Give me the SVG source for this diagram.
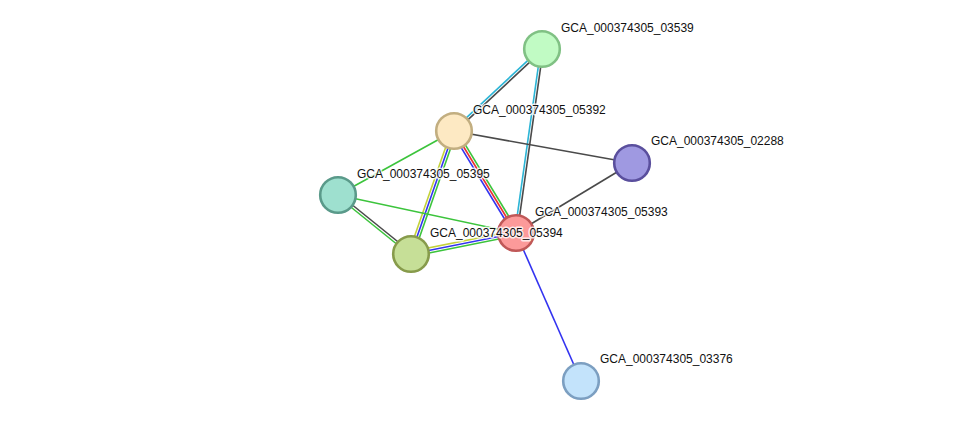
<svg xmlns="http://www.w3.org/2000/svg" width="976" height="427" viewBox="0 0 976 427">
<style>
.e{fill:none;stroke-width:1.6;stroke-linecap:butt}
.gy{stroke:#4a4a4a}
.gr{stroke:#3cc43c}
.bl{stroke:#3333f0}
.rd{stroke:#e83232}
.yl{stroke:#c3d23a}
.cy{stroke:#2cb5d6}
.n circle{stroke-width:2.6}
.lbl{font-family:"Liberation Sans",Arial,sans-serif;font-size:12px;fill:#111;stroke:#fff;stroke-width:3;stroke-opacity:0.8;paint-order:stroke;stroke-linejoin:round}
</style>
<rect width="976" height="427" fill="#fff"/>
<g id="connectors">
<!-- 03539 - 05392 -->
<line class="e cy" x1="541.1" y1="48.1" x2="453.1" y2="130.1"/>
<line class="e gy" x1="542.9" y1="49.9" x2="454.9" y2="131.9"/>
<!-- 03539 - 05393 -->
<line class="e cy" x1="540.8" y1="48.8" x2="514.8" y2="232.8"/>
<line class="e gy" x1="543.2" y1="49.2" x2="517.2" y2="233.2"/>
<!-- 05392 - 02288 -->
<line class="e gy" x1="454" y1="131" x2="632" y2="163"/>
<!-- 05392 - 05395 -->
<line class="e gr" x1="454" y1="131" x2="338" y2="195"/>
<!-- 05392 - 05393 -->
<line class="e bl" x1="451.9" y1="132.3" x2="513.9" y2="234.3"/>
<line class="e rd" x1="454" y1="131" x2="516" y2="233"/>
<line class="e gr" x1="456.1" y1="129.7" x2="518.1" y2="231.7"/>
<!-- 05392 - 05394 -->
<line class="e yl" x1="451.6" y1="130.2" x2="408.6" y2="253.2"/>
<line class="e bl" x1="454" y1="131" x2="411" y2="254"/>
<line class="e gr" x1="456.4" y1="131.8" x2="413.4" y2="254.8"/>
<!-- 05395 - 05394 -->
<line class="e gy" x1="338.8" y1="194" x2="411.8" y2="253"/>
<line class="e gr" x1="337.2" y1="196" x2="410.2" y2="255"/>
<!-- 05395 - 05393 -->
<line class="e gr" x1="338" y1="195" x2="516" y2="233"/>
<!-- 05394 - 05393 -->
<line class="e yl" x1="410.5" y1="251.5" x2="515.5" y2="230.5"/>
<line class="e bl" x1="411" y1="254" x2="516" y2="233"/>
<line class="e gr" x1="411.5" y1="256.5" x2="516.5" y2="235.5"/>
<!-- 02288 - 05393 -->
<line class="e gy" x1="632" y1="163" x2="516" y2="233"/>
<!-- 05393 - 03376 -->
<line class="e bl" x1="516" y1="233" x2="581" y2="381"/>
</g>
<g id="GCA_000374305_03539" class="n"><circle cx="542" cy="49" r="17.8" fill="#c1fbc4" stroke="#80c184"/></g>
<g id="GCA_000374305_05392" class="n"><circle cx="454" cy="131" r="17.8" fill="#fde9c3" stroke="#c2ae80"/></g>
<g id="GCA_000374305_02288" class="n"><circle cx="632" cy="163" r="17.8" fill="#9f99e1" stroke="#5a4f9d"/></g>
<g id="GCA_000374305_05395" class="n"><circle cx="338" cy="195" r="17.8" fill="#9ee0cf" stroke="#5a9a8a"/></g>
<g id="GCA_000374305_05394" class="n"><circle cx="411" cy="254" r="17.8" fill="#c6df97" stroke="#879b4b"/></g>
<g id="GCA_000374305_05393" class="n"><circle cx="516" cy="233" r="17.8" fill="#fc9a9a" stroke="#c05858"/></g>
<g id="GCA_000374305_03376" class="n"><circle cx="581" cy="381" r="17.8" fill="#c3e3fb" stroke="#7c9fc1"/></g>
<g id="labels">
<text class="lbl" x="561" y="32">GCA_000374305_03539</text>
<text class="lbl" x="473" y="114">GCA_000374305_05392</text>
<text class="lbl" x="651" y="145">GCA_000374305_02288</text>
<text class="lbl" x="357" y="178">GCA_000374305_05395</text>
<text class="lbl" x="535" y="216">GCA_000374305_05393</text>
<text class="lbl" x="430" y="237">GCA_000374305_05394</text>
<text class="lbl" x="600" y="363">GCA_000374305_03376</text>
</g>
</svg>
